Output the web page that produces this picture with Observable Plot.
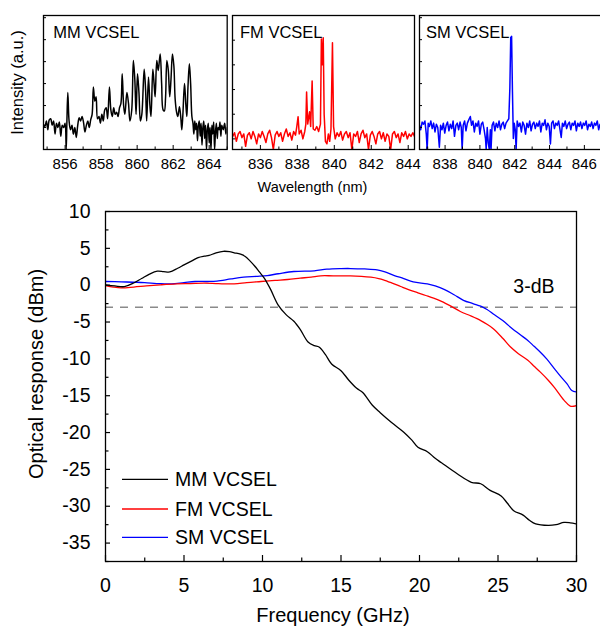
<!DOCTYPE html>
<html><head><meta charset="utf-8">
<script src="https://cdn.jsdelivr.net/npm/d3@7"></script>
<script src="https://cdn.jsdelivr.net/npm/@observablehq/plot@0.6"></script>
<style>
html,body{margin:0;padding:0;background:#fff;overflow:hidden;}
#wrap{position:relative;width:600px;height:628px;overflow:hidden;background:#fff;}
#wrap svg{position:absolute;}
</style></head><body><div id="wrap"></div>
<script>
// ---------- Spectra (top panels) ----------
const mmWl = [854.8,854.88,854.96,855.04,855.12,855.2,855.28,855.36,855.44,855.52,855.6,855.68,855.76,855.84,855.92,856.0,856.06,856.1,856.15,856.22,856.3,856.38,856.46,856.54,856.62,856.7,856.78,856.86,856.94,857.02,857.1,857.18,857.26,857.34,857.42,857.5,857.57,857.65,857.72,857.8,857.88,857.96,858.04,858.12,858.2,858.28,858.36,858.46,858.54,858.62,858.7,858.78,858.86,858.94,859.02,859.1,859.17,859.25,859.32,859.43,859.52,859.6,859.7,859.79,859.87,859.94,860.02,860.1,860.18,860.26,860.39,860.47,860.53,860.63,860.71,860.77,860.87,860.94,861.0,861.09,861.17,861.28,861.36,861.44,861.51,861.58,861.65,861.73,861.81,861.88,861.96,862.04,862.11,862.19,862.26,862.35,862.43,862.48,862.54,862.63,862.7,862.76,862.82,862.9,862.97,863.04,863.1,863.15,863.2,863.25,863.3,863.35,863.4,863.45,863.5,863.55,863.6,863.65,863.7,863.75,863.8,863.85,863.9,863.95,864.0,864.05,864.1,864.15,864.2,864.25,864.3,864.35,864.4,864.45,864.5,864.55,864.6,864.65,864.7,864.78,864.86,864.93,865.0];
const mmInt = [1.15,1.05,1.3,0.9,1.35,1.4,1.1,1.3,0.7,1.2,1.0,1.25,0.6,1.1,1.0,1.2,0.0,1.3,2.6,1.3,0.9,1.1,0.7,1.0,0.55,1.1,1.45,1.3,1.5,1.25,0.8,1.1,1.3,1.0,1.35,1.6,2.85,2.2,2.4,1.4,1.5,1.2,1.6,1.3,1.8,1.9,1.4,2.85,1.8,1.5,1.9,1.6,1.7,1.5,1.9,2.1,3.45,2.0,1.6,2.6,2.1,1.3,1.8,4.05,3.2,1.6,3.45,2.6,1.3,1.6,3.65,2.7,1.3,3.3,2.0,1.5,3.65,3.0,2.4,4.05,3.6,4.35,3.0,1.8,1.75,2.4,4.05,3.6,2.4,3.2,4.35,3.8,2.3,1.7,1.5,1.95,1.4,0.9,1.6,3.0,2.1,1.5,2.8,3.9,3.0,1.5,1.2,0.7,1.3,0.9,1.2,0.4,1.1,1.3,0.6,1.2,0.2,1.0,1.3,0.5,1.1,0.0,0.9,1.2,0.3,1.0,0.0,1.1,0.7,1.25,0.0,0.8,1.2,0.5,1.0,0.9,1.25,0.6,1.1,0.9,1.2,0.7,1.0];

const fmWl = [834.5,834.6,834.7,834.8,834.9,835.0,835.1,835.2,835.3,835.4,835.5,835.6,835.7,835.8,835.9,836.0,836.1,836.2,836.3,836.4,836.5,836.6,836.7,836.8,836.9,837.0,837.1,837.2,837.3,837.4,837.5,837.6,837.7,837.8,837.9,837.97,838.04,838.1,838.2,838.3,838.4,838.46,838.5,838.56,838.62,838.66,838.72,838.8,838.86,838.95,839.05,839.15,839.25,839.3,839.35,839.4,839.45,839.52,839.6,839.68,839.75,839.82,839.9,839.96,840.05,840.15,840.25,840.35,840.45,840.55,840.65,840.75,840.85,840.95,841.05,841.15,841.25,841.35,841.45,841.55,841.65,841.75,841.85,841.95,842.05,842.15,842.25,842.35,842.45,842.55,842.65,842.75,842.85,842.95,843.05,843.15,843.25,843.35,843.45,843.55,843.65,843.75,843.85,843.95,844.05,844.15,844.25,844.34];
const fmInt = [0.1,0.25,-0.1,0.2,0.3,0.05,0.2,-0.3,0.15,0.25,0.0,0.3,0.1,-0.2,0.2,0.05,0.3,0.1,-0.15,0.2,0.35,0.05,-0.43,0.15,0.3,0.1,0.25,-0.1,0.2,0.4,0.1,0.25,-0.05,0.3,0.15,0.5,0.9,0.2,0.35,0.0,0.3,0.6,1.9,0.6,0.9,1.1,0.5,2.35,0.4,0.35,0.5,0.3,0.6,4.05,3.0,4.1,1.0,-0.1,-0.2,0.2,-0.1,0.4,3.9,0.5,0.0,0.25,0.1,0.3,-0.05,0.2,0.3,0.05,0.25,-0.43,0.2,0.1,0.3,-0.15,0.2,0.35,0.05,0.2,-0.43,0.15,0.3,0.1,-0.2,0.2,0.3,0.0,0.25,-0.1,0.2,0.1,-0.43,0.2,0.3,0.05,0.2,-0.15,0.25,0.1,0.3,0.0,0.2,0.1,0.25,0.1];

const smWl = [836.53,836.6,836.68,836.76,836.84,836.92,836.97,837.03,837.1,837.18,837.26,837.34,837.42,837.5,837.58,837.67,837.74,837.82,837.9,837.98,838.06,838.14,838.22,838.3,838.38,838.46,838.54,838.62,838.7,838.78,838.86,838.93,838.98,839.04,839.12,839.2,839.28,839.36,839.45,839.52,839.6,839.68,839.76,839.84,839.92,840.0,840.08,840.16,840.24,840.32,840.36,840.42,840.48,840.54,840.6,840.64,840.7,840.78,840.86,840.94,841.02,841.1,841.18,841.26,841.34,841.42,841.5,841.58,841.66,841.72,841.77,841.82,841.87,841.92,841.97,842.03,842.08,842.14,842.22,842.3,842.38,842.46,842.54,842.62,842.7,842.78,842.86,842.94,843.02,843.1,843.18,843.26,843.34,843.42,843.5,843.58,843.66,843.74,843.82,843.9,843.98,844.05,844.12,844.2,844.28,844.36,844.44,844.52,844.6,844.67,844.74,844.82,844.9,844.98,845.06,845.14,845.22,845.3,845.38,845.46,845.54,845.62,845.7,845.78,845.86,845.94,846.02,846.1,846.18,846.26,846.34,846.42,846.5,846.58,846.66,846.74,846.82,846.9,846.97];
const smInt = [1.1,0.9,1.25,1.15,1.3,0.7,0.0,1.2,1.05,1.3,0.95,1.2,0.8,1.15,1.0,0.1,1.1,0.9,1.2,0.75,1.1,1.25,0.85,1.15,0.95,1.3,0.6,1.1,1.2,0.9,1.25,1.0,0.0,1.1,1.3,0.85,1.2,1.35,1.5,1.1,1.3,0.8,1.2,1.05,1.3,0.7,1.15,1.25,0.9,0.5,0.0,1.0,0.3,0.0,0.9,0.0,1.1,1.25,0.85,1.2,1.0,1.3,0.9,1.15,1.25,0.95,1.2,1.3,1.4,2.8,5.1,5.15,2.6,0.5,1.2,0.9,0.0,1.3,1.05,1.2,0.8,1.25,1.1,0.7,1.2,1.0,1.3,0.85,1.15,1.25,0.95,1.2,1.05,1.3,0.8,1.2,1.1,1.35,0.9,1.2,1.05,0.25,1.2,1.3,0.95,1.2,1.1,1.3,0.9,0.55,1.2,1.05,1.3,0.95,1.15,1.25,0.9,1.2,1.1,1.3,0.85,1.2,1.05,1.25,0.95,1.2,1.1,1.3,0.9,1.15,1.05,1.25,0.95,1.2,1.1,1.3,0.9,1.15,1.05];

const mmTicks = [856,858,860,862,864];
const fmTicks = [836,838,840,842,844];
const smTicks = [838,840,842,844,846];
const panelNames = ["MM VCSEL","FM VCSEL","SM VCSEL"];

// ---------- Optical response (main chart) ----------
const mmFreq = [0,0.6,1.2,1.8,2.3,2.8,3.3,3.7,4.1,4.6,5.0,5.5,5.9,6.3,6.6,7.0,7.5,7.9,8.2,8.6,8.9,9.2,9.5,9.8,10.1,10.5,11.0,11.5,12.0,12.4,12.9,13.3,13.6,14.0,14.4,15.0,15.5,16.0,16.4,17.0,17.5,18.2,19.0,19.5,19.9,20.5,21.0,21.4,22.4,23.3,23.9,24.5,25.2,25.6,26.0,26.6,27.0,27.4,28.2,28.7,29.2,29.6,30];
const mmResp = [0.05,-0.1,-0.2,0.3,0.9,1.5,1.9,1.85,1.8,2.3,2.75,3.3,3.75,3.95,4.05,4.35,4.6,4.55,4.4,4.2,3.9,3.3,2.6,1.8,1.0,-0.5,-2.7,-4.0,-4.9,-6.0,-7.7,-8.2,-8.4,-9.4,-10.7,-11.6,-12.9,-14.0,-14.6,-16.3,-17.3,-18.6,-19.95,-21.0,-22.0,-22.6,-23.5,-24.1,-25.6,-26.75,-26.95,-27.85,-28.6,-29.6,-30.6,-31.2,-31.9,-32.4,-32.6,-32.5,-32.2,-32.25,-32.4];
const fmFreq = [0,0.5,1,1.8,2.6,3.5,4.5,5.4,6.3,7.2,8.2,9.0,9.9,10.8,11.6,12.4,13.1,13.7,14.5,15.6,16.3,16.9,17.4,17.7,18.3,18.8,19.3,19.9,20.4,20.9,21.4,22.0,22.6,23.3,23.9,24.3,24.7,25.3,25.8,26.3,26.9,27.3,27.7,28.2,28.6,29.2,29.6,30];
const fmResp = [-0.05,-0.25,-0.36,-0.25,-0.1,0.05,0.18,0.22,0.27,0.2,0.18,0.35,0.5,0.65,0.77,0.95,1.1,1.27,1.27,1.27,1.2,1.08,0.9,0.73,0.25,-0.18,-0.6,-1.04,-1.4,-1.77,-2.2,-2.85,-3.57,-4.2,-4.8,-5.3,-5.9,-7.2,-8.4,-9.3,-10.2,-11.0,-11.8,-12.9,-13.9,-15.6,-16.4,-16.35];
const smFreq = [0,1,2,2.5,3.5,4.2,5,5.7,6.5,7.1,8,8.8,9.6,10.3,11,12,13.3,14.1,15.0,15.6,16.5,17.3,17.8,18.4,19.0,19.6,20.5,21.0,21.6,22.2,22.8,23.4,23.9,24.3,24.7,25.3,25.8,26.4,26.9,27.3,27.7,28.1,28.6,29.0,29.4,29.7,30];
const smResp = [0.5,0.45,0.4,0.35,0.2,0.18,0.35,0.5,0.5,0.55,0.85,1.08,1.2,1.31,1.55,1.86,1.95,2.17,2.25,2.26,2.2,2.08,1.8,1.31,0.9,0.45,0.18,-0.1,-0.6,-1.3,-2.05,-2.5,-2.85,-3.3,-3.9,-4.8,-5.7,-6.7,-7.5,-8.3,-9.1,-10.0,-11.35,-12.4,-13.4,-14.3,-14.5];

const seriesNames = ["MM VCSEL","FM VCSEL","SM VCSEL"];
const seriesColors = ["#000000","#ff0000","#0000ff"];
const freqTicks = [0,5,10,15,20,25,30];
const freqMinor = [2.5,7.5,12.5,17.5,22.5,27.5];
const respTicks = [-35,-30,-25,-20,-15,-10,-5,0,5,10];
const respMinor = [-37.5,-32.5,-27.5,-22.5,-17.5,-12.5,-7.5,-2.5,2.5,7.5];
const threeDbLevel = -3;
const threeDbText = "3-dB";

// ---------- drawing ----------
const FONT = '"Liberation Sans", Arial, Helvetica, sans-serif';
const wrap = document.getElementById("wrap");

function place(svg, left, top) {
  svg.style.position = "absolute";
  svg.style.left = left + "px";
  svg.style.top = top + "px";
  wrap.appendChild(svg);
}

function panel(wl, inten, color, xDomain, yDomain, frameLeft, frameRight, xTicks, yTicks, curve, sw) {
  const mL = 25, mR = 15, mT = 15, mB = 51, H = 200;
  const W = frameRight - frameLeft + mL + mR;
  const yPx = (yDomain[1] - yDomain[0]) / (H - mT - mB);
  const xPx = (xDomain[1] - xDomain[0]) / (frameRight - frameLeft);
  const data = wl.map((w, i) => ({w, v: inten[i]}));
  const minor = xTicks.map(t => t - 1).concat([xTicks[xTicks.length - 1] + 1]);
  const svg = Plot.plot({
    width: W, height: H,
    marginLeft: mL, marginRight: mR, marginTop: mT, marginBottom: mB,
    x: {domain: xDomain, ticks: xTicks, tickSize: 0, tickPadding: 9, tickFormat: d => String(d), label: null},
    y: {domain: yDomain, axis: null},
    style: {background: "transparent", overflow: "visible", fontFamily: FONT, fontSize: "15px", color: "#000"},
    marks: [
      Plot.line(data, {x: "w", y: "v", stroke: color, strokeWidth: sw, curve, clip: true}),
      Plot.ruleX(xTicks, {y1: yDomain[0], y2: yDomain[0] + 4 * yPx, stroke: "#000", strokeWidth: 1}),
      Plot.ruleX(minor, {y1: yDomain[0], y2: yDomain[0] + 2.5 * yPx, stroke: "#000", strokeWidth: 1}),
      Plot.ruleY(yTicks, {x1: xDomain[0], x2: xDomain[0] + 3 * xPx, stroke: "#000", strokeWidth: 1}),
      Plot.frame({stroke: "#000", strokeWidth: 1.3})
    ]
  });
  place(svg, frameLeft - mL, 0);
}

panel(mmWl, mmInt, "#000000", [854.8, 865.0], [0, 6.1], 43.3, 227, mmTicks, [1,2,3,4,5,6], "catmull-rom", 1.5);
panel(fmWl, fmInt, "#ff0000", [834.49, 844.34], [-0.43, 5.0], 232.3, 414.3, fmTicks, [0,1,2,3,4], "linear", 1.5);
panel(smWl, smInt, "#0000ff", [836.53, 847.07], [0, 6.1], 418.5, 602, smTicks, [1,2,3,4,5,6], "linear", 1.5);

// main chart
(function () {
  const W = 600, H = 428, mL = 105, mR = 24, mT = 11, mB = 67;
  const xPx = 30 / (W - mL - mR);
  const yPx = 47.5 / (H - mT - mB);
  const toData = (fs, vs) => fs.map((f, i) => ({f, v: vs[i]}));
  const series = [toData(mmFreq, mmResp), toData(fmFreq, fmResp), toData(smFreq, smResp)];
  const svg = Plot.plot({
    width: W, height: H,
    marginLeft: mL, marginRight: mR, marginTop: mT, marginBottom: mB,
    x: {domain: [0, 30], ticks: freqTicks, tickSize: 0, tickPadding: 17, tickFormat: d => String(d), label: null},
    y: {domain: [-37.5, 10], ticks: respTicks, tickSize: 0, tickPadding: 15, tickFormat: d => String(d), label: null},
    style: {background: "transparent", overflow: "visible", fontFamily: FONT, fontSize: "19.5px", color: "#000"},
    marks: [
      Plot.ruleY([threeDbLevel], {stroke: "#8a8a8a", strokeWidth: 1.5, strokeDasharray: "8,7"}),
      Plot.line(series[2], {x: "f", y: "v", stroke: seriesColors[2], strokeWidth: 1.3, curve: "catmull-rom", clip: true}),
      Plot.line(series[1], {x: "f", y: "v", stroke: seriesColors[1], strokeWidth: 1.3, curve: "catmull-rom", clip: true}),
      Plot.line(series[0], {x: "f", y: "v", stroke: seriesColors[0], strokeWidth: 1.3, curve: "catmull-rom", clip: true}),
      Plot.ruleX(freqTicks, {y1: -37.5, y2: -37.5 + 6 * yPx, stroke: "#000", strokeWidth: 1.2}),
      Plot.ruleX(freqMinor, {y1: -37.5, y2: -37.5 + 3.5 * yPx, stroke: "#000", strokeWidth: 1.2}),
      Plot.ruleY(respTicks, {x1: 0, x2: 5 * xPx, stroke: "#000", strokeWidth: 1.2}),
      Plot.ruleY(respMinor, {x1: 0, x2: 3.5 * xPx, stroke: "#000", strokeWidth: 1.2}),
      Plot.frame({stroke: "#000", strokeWidth: 1.3})
    ]
  });
  place(svg, 0, 200);
})();

// overlay: titles, panel names, legend, annotation
const ov = d3.create("svg").attr("width", 600).attr("height", 628)
  .style("position", "absolute").style("left", "0px").style("top", "0px")
  .style("font-family", FONT).style("pointer-events", "none");

function txt(s, x, y, size, opts = {}) {
  const t = ov.append("text").attr("x", x).attr("y", y).attr("font-size", size).attr("fill", "#000").text(s);
  if (opts.anchor) t.attr("text-anchor", opts.anchor);
  if (opts.rotate) t.attr("transform", `rotate(-90 ${x} ${y})`);
  if (opts.base) t.attr("dominant-baseline", opts.base);
  return t;
}

txt("Intensity (a.u.)", 23.3, 82.5, 16.5, {anchor: "middle", rotate: true});
txt("Wavelength (nm)", 312.5, 192, 14.5, {anchor: "middle"});
const nameX = [53.3, 240, 426];
panelNames.forEach((n, i) => txt(n, nameX[i], 37.7, 16.5));

txt("Optical response (dBm)", 43, 374, 20, {anchor: "middle", rotate: true});
txt("Frequency (GHz)", 333, 621.5, 20, {anchor: "middle"});
txt(threeDbText, 513.3, 293.3, 19.5);

const legY = [479.3, 509, 537.3];
seriesNames.forEach((n, i) => {
  ov.append("line").attr("x1", 122).attr("x2", 168).attr("y1", legY[i]).attr("y2", legY[i])
    .attr("stroke", seriesColors[i]).attr("stroke-width", 1.3);
  txt(n, 175, legY[i], 19.5, {base: "central"});
});

wrap.appendChild(ov.node());
</script></body></html>
